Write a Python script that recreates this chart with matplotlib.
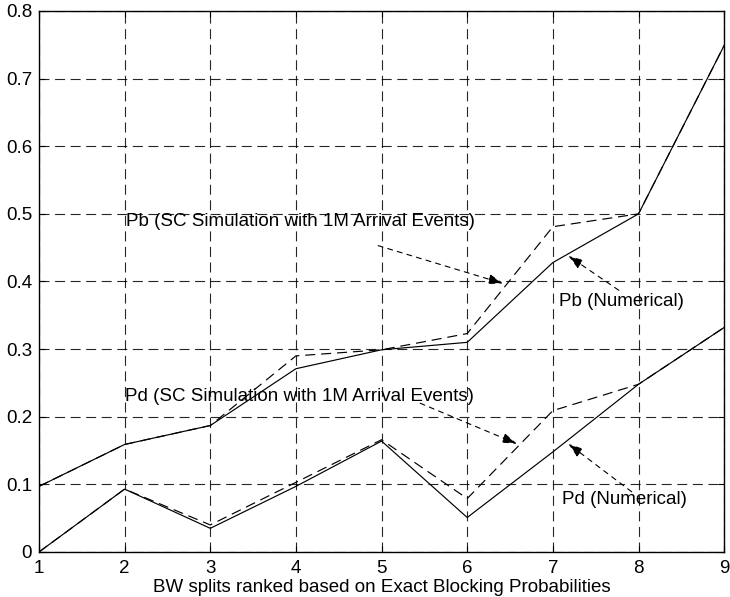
import matplotlib
matplotlib.use("Agg")
import matplotlib.pyplot as plt

plt.rcParams['font.family'] = ['Liberation Sans', 'DejaVu Sans']

# BW split rank
ranks = [1, 2, 3, 4, 5, 6, 7, 8, 9]

# Blocking probability (numerical vs. simulation)
pb_numerical = [0.097, 0.159, 0.187, 0.271, 0.299, 0.310, 0.428, 0.500, 0.749]
pb_simulation = [0.097, 0.159, 0.187, 0.290, 0.299, 0.323, 0.481, 0.500, 0.749]

# Dropping probability (numerical vs. simulation)
pd_numerical = [0.000, 0.093, 0.035, 0.097, 0.164, 0.051, 0.148, 0.248, 0.332]
pd_simulation = [0.000, 0.093, 0.040, 0.103, 0.166, 0.079, 0.209, 0.248, 0.332]

x_ticks = [1, 2, 3, 4, 5, 6, 7, 8, 9]
y_ticks = [0, 0.1, 0.2, 0.3, 0.4, 0.5, 0.6, 0.7, 0.8]
y_ticklabels = ['0', '0.1', '0.2', '0.3', '0.4', '0.5', '0.6', '0.7', '0.8']

FS = 13.5

fig = plt.figure(figsize=(7.30, 5.97), dpi=100)
ax = fig.add_axes([0.0534, 0.0754, 0.9386, 0.9062])

ax.plot(ranks, pb_numerical, color='k', lw=0.85, zorder=3)
ax.plot(ranks, pb_simulation, color='k', lw=0.85, linestyle=(0, (8.5, 5)), zorder=3)
ax.plot(ranks, pd_numerical, color='k', lw=0.85, zorder=3)
ax.plot(ranks, pd_simulation, color='k', lw=0.85, linestyle=(0, (8.5, 5)), zorder=3)

ax.set_xlim(1, 9)
ax.set_ylim(0, 0.8)
ax.set_xticks(x_ticks)
ax.set_yticks(y_ticks)
ax.set_yticklabels(y_ticklabels)
ax.tick_params(direction='in', length=4, width=0.8, labelsize=FS,
               top=True, right=True)
ax.tick_params(axis='x', pad=6)
ax.tick_params(axis='y', pad=5)
ax.grid(True, color='k', lw=0.8, linestyle=(0, (9, 5)), alpha=0.85)
for s in ax.spines.values():
    s.set_linewidth(1.0)

ax.set_xlabel('BW splits ranked based on Exact Blocking Probabilities',
              fontsize=FS, labelpad=1)

# Curve labels with pointer arrows
labels = [
    ('Pb (SC Simulation with 1M Arrival Events)', (2.02, 0.488), (4.96, 0.453), (6.42, 0.397)),
    ('Pd (SC Simulation with 1M Arrival Events)', (2.0, 0.23), (5.45, 0.22), (6.58, 0.160)),
    ('Pb (Numerical)', (7.07, 0.370), (7.77, 0.387), (7.18, 0.438)),
    ('Pd (Numerical)', (7.11, 0.077), (7.92, 0.089), (7.18, 0.160)),
]
for text, tpos, start, tip in labels:
    ax.text(tpos[0], tpos[1], text, fontsize=FS, ha='left', va='center', zorder=4)
    ax.annotate('', xy=tip, xytext=start,
                arrowprops=dict(arrowstyle='-|>,head_length=0.9,head_width=0.3',
                                linestyle=(0, (4.5, 4.5)), lw=0.8, color='k',
                                shrinkA=0, shrinkB=0), zorder=4)

fig.savefig('out.png', dpi=100)
